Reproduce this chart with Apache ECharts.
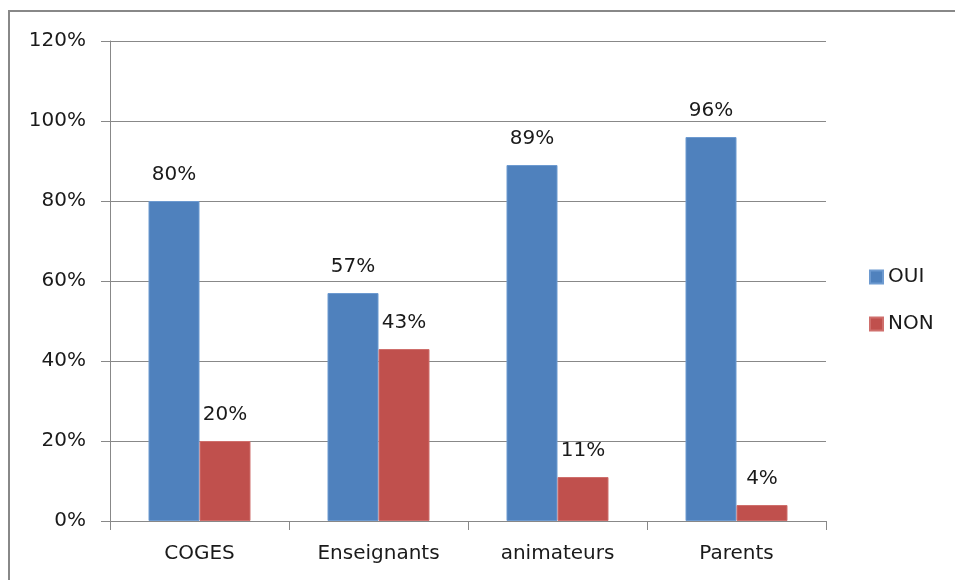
<!DOCTYPE html>
<html>
<head>
<meta charset="utf-8">
<script src="https://cdn.jsdelivr.net/npm/echarts@6/dist/echarts.min.js"></script>
<style>
  html, body { margin: 0; padding: 0; background: #fff; }
  #chart { width: 955px; height: 580px; }
</style>
</head>
<body>
<div id="chart"></div>
<script>
const categories = ['COGES', 'Enseignants', 'animateurs', 'Parents'];
const ouiValues = [80, 57, 89, 96];
const nonValues = [20, 43, 11, 4];
const yTicks = [0, 20, 40, 60, 80, 100, 120];

const FONT = 'DejaVu Sans';
const FS = 20;
const TEXT = '#1a1a1a';
const GREY = '#888888';

const chart = echarts.init(document.getElementById('chart'), null, { renderer: 'canvas' });

// value labels above each bar
const labelStyle = {
  show: true,
  position: 'top',
  distance: 16,
  formatter: p => p.value + '%',
  fontFamily: FONT,
  fontSize: FS,
  color: TEXT
};

chart.setOption({
  animation: false,
  backgroundColor: '#fff',
  textStyle: { fontFamily: FONT },
  // outer chart frame
  graphic: [{
    type: 'rect',
    shape: { x: 9, y: 11, width: 960, height: 600 },
    style: { fill: 'none', stroke: GREY, lineWidth: 2 },
    silent: true
  }],
  grid: { left: 110, right: 129, top: 41, bottom: 59 },
  legend: {
    orient: 'vertical',
    left: 864,
    top: 262,
    itemWidth: 13,
    itemHeight: 13,
    itemGap: 27,
    icon: 'rect',
    textStyle: { fontFamily: FONT, fontSize: FS, color: TEXT, padding: [0, 0, 0, 0] },
    data: ['OUI', 'NON']
  },
  xAxis: {
    type: 'category',
    data: categories,
    axisLine: { lineStyle: { color: GREY, width: 1 } },
    axisTick: { show: true, length: 9, lineStyle: { color: GREY } },
    axisLabel: { fontFamily: FONT, fontSize: FS, color: TEXT, margin: 23 }
  },
  yAxis: {
    type: 'value',
    min: yTicks[0],
    max: yTicks[yTicks.length - 1],
    interval: yTicks[1] - yTicks[0],
    axisLine: { show: true, lineStyle: { color: GREY, width: 1 } },
    axisTick: { show: true, length: 9, lineStyle: { color: GREY } },
    splitLine: { lineStyle: { color: GREY, width: 1 } },
    axisLabel: {
      fontFamily: FONT, fontSize: FS, color: TEXT, margin: 24,
      formatter: v => v + '%'
    }
  },
  series: [
    {
      name: 'OUI',
      type: 'bar',
      data: ouiValues,
      barWidth: 51,
      barGap: '0%',
      itemStyle: { color: '#4F81BD', borderColor: '#6d9ad0', borderWidth: 1 },
      label: labelStyle
    },
    {
      name: 'NON',
      type: 'bar',
      data: nonValues,
      barWidth: 51,
      barGap: '0%',
      itemStyle: { color: '#C0504D', borderColor: '#cf6f6c', borderWidth: 1 },
      label: labelStyle
    }
  ]
});
</script>
</body>
</html>
